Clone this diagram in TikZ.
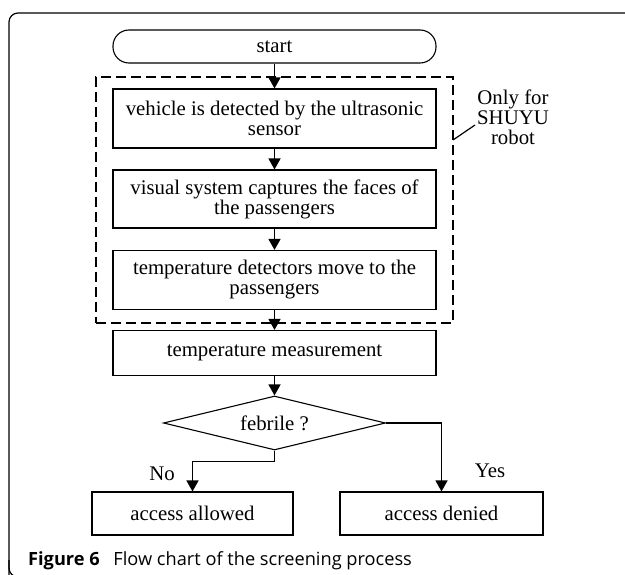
\documentclass[tikz,border=0pt]{standalone}
\usepackage{fontspec}
\setmainfont{Liberation Serif}
\newfontfamily\capfont{Open Sans}
\usetikzlibrary{shapes.geometric,arrows.meta}
\begin{document}
\begin{tikzpicture}[x=1pt,y=1pt,
  txt/.style={font=\fontsize{20.8}{20}\selectfont},
  box/.style={txt,draw,line width=1.1pt,minimum width=323pt,inner sep=0pt,align=center},
  term/.style={box,rounded corners=16pt,minimum height=33pt},
  dec/.style={txt,draw,line width=1.1pt,shape=diamond,aspect=4.1,minimum width=222pt,minimum height=54pt,inner sep=0pt},
  grpbox/.style={draw,line width=1.3pt,dash pattern=on 10pt off 5pt,minimum width=357pt,minimum height=246pt,inner sep=0pt},
  flow/.style={line width=1.3pt,-{Triangle[length=11pt,width=12pt]}},
  lbl/.style={txt,align=center,inner sep=0pt}
]
\useasboundingbox (0,0) rectangle (625,-575);
\clip (0,0) rectangle (625,-575);
% frame
\draw[line width=1.2pt,rounded corners=9pt] (9,-584) -- (9,-13) -- (640,-13);
\draw[line width=1.2pt,rounded corners=9pt] (9,-560) -- (9,-577) -- (30,-577);

\node[grpbox] (grp) at (274.5,-200) {};
\node[term] (start) at (274.5,-46.5) {start};
\node[box,minimum height=59pt] (b1) at (274.5,-118.5) {vehicle is detected by the ultrasonic\\sensor};
\node[box,minimum height=58pt] (b2) at (274.5,-199) {visual system captures the faces of\\the passengers};
\node[box,minimum height=59pt] (b3) at (274.5,-280) {temperature detectors move to the\\passengers};
\node[box,minimum height=45pt] (b4) at (274.5,-353) {temperature measurement};
\node[dec] (dia) at (274.5,-423) {febrile ?};
\node[box,minimum width=201pt,minimum height=43pt] (allow) at (192.5,-513.5) {access allowed};
\node[box,minimum width=203pt,minimum height=43pt] (deny) at (441.5,-513.5) {access denied};

\node[lbl] (note) at (513,-117) {Only for\\SHUYU\\robot};
\coordinate (ld1) at (453,-140);
\coordinate (ld2) at (475,-125);
\draw[line width=1.2pt] (ld1) -- (ld2);

\node[lbl,anchor=center] (no) at (162,-474) {No};
\node[lbl,anchor=center] (yes) at (490,-471) {Yes};

\draw[flow] (start) -- (b1);
\draw[flow] (b1) -- (b2);
\draw[flow] (b2) -- (b3);
\draw[flow] (b3) -- (b4);
\draw[flow] (b4) -- (dia);
\draw[flow] (dia.south) -- ++(0,-11) -| (allow.north);
\draw[flow] (dia.east) -| (deny.north);

\node[anchor=base west,inner sep=0pt,text=black,font=\capfont\fontsize{18.2}{21}\selectfont] (cap) at (28,-565) {\textbf{Figure 6}\hspace{9pt} Flow chart of the screening process};
\end{tikzpicture}
\end{document}
